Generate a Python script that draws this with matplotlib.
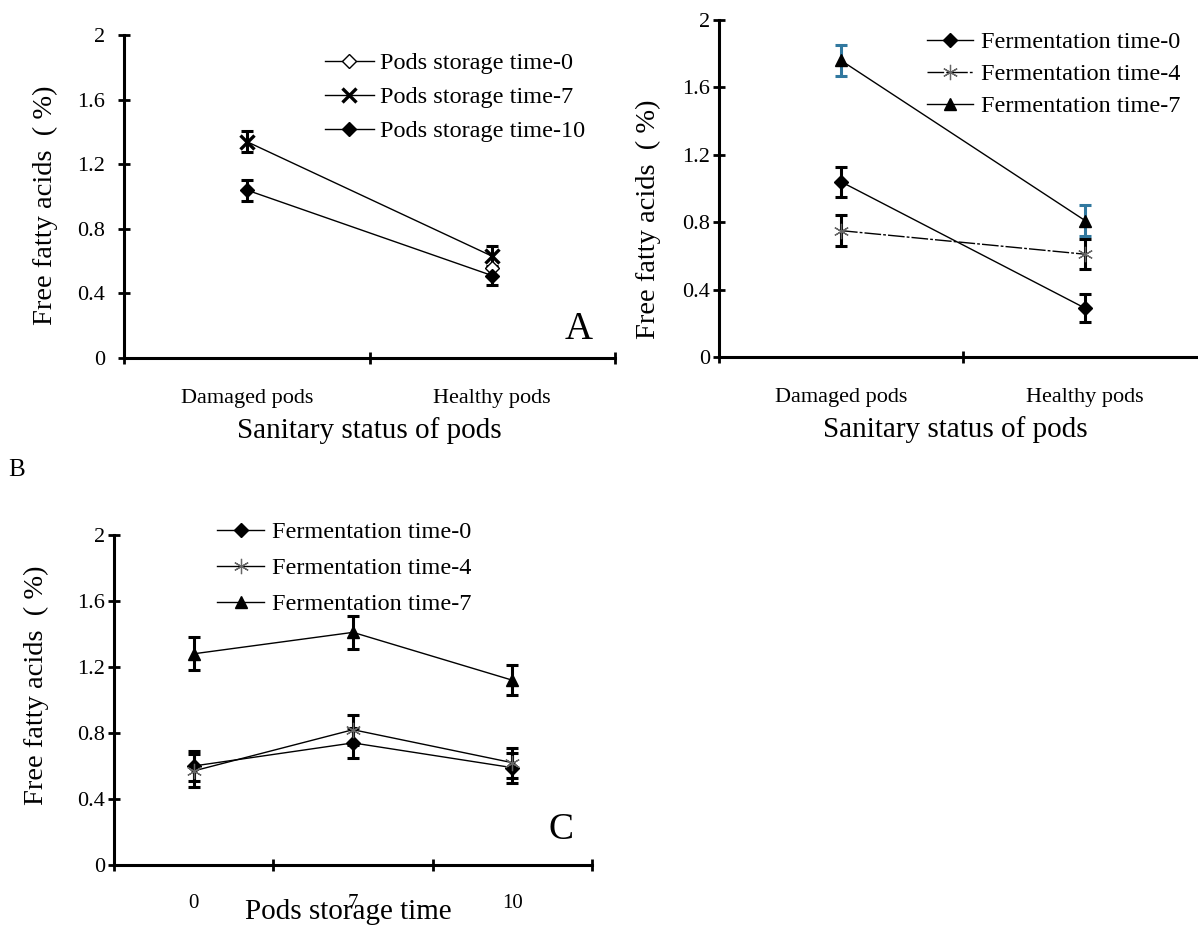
import matplotlib
matplotlib.use("Agg")
import matplotlib.pyplot as plt
import numpy as np

plt.rcParams['font.family'] = ['Liberation Serif', 'DejaVu Serif']

# panel A: sanitary status x pods storage time
status_labels = ['Damaged pods', 'Healthy pods']
storage_0 = [np.nan, 0.56]
storage_7 = [1.34, 0.63]
storage_7_err = [0.065, 0.065]
storage_10 = [1.04, 0.51]
storage_10_err = [0.065, 0.06]

# panel B: sanitary status x fermentation time
ferm_b_0 = [1.04, 0.29]
ferm_b_0_err = [0.09, 0.085]
ferm_b_4 = [0.75, 0.61]
ferm_b_4_err = [0.09, 0.09]
ferm_b_7 = [1.76, 0.81]
ferm_b_7_err = [0.09, 0.09]

# panel C: pods storage time x fermentation time
storage_labels = ['0', '7', '10']
ferm_c_0 = [0.60, 0.74, 0.59]
ferm_c_0_err = [0.09, 0.09, 0.09]
ferm_c_4 = [0.57, 0.82, 0.62]
ferm_c_4_err = [0.10, 0.09, 0.09]
ferm_c_7 = [1.28, 1.41, 1.12]
ferm_c_7_err = [0.10, 0.10, 0.09]

yticks = [0, 0.4, 0.8, 1.2, 1.6, 2]
ytick_labels = ['0', '0.4', '0.8', '1.2', '1.6', '2']
ylab = 'Free fatty acids  ( %)'

W, H = 1198, 930
fig = plt.figure(figsize=(W / 100, H / 100), dpi=100)


def px_axes(left, right, top, bottom):
    return fig.add_axes([left / W, 1 - bottom / H, (right - left) / W, (bottom - top) / H])


def style(ax, labels, ypad, catsize, catpad):
    n = len(labels)
    ax.set_xlim(0, n)
    ax.set_ylim(0, 2)
    for s in ['top', 'right']:
        ax.spines[s].set_visible(False)
    for s in ['left', 'bottom']:
        ax.spines[s].set_linewidth(2.2)
    ax.set_yticks(yticks, ytick_labels)
    ax.set_xticks(np.arange(n + 1))
    ax.set_xticklabels([])
    ax.set_xticks(np.arange(n) + 0.5, labels, minor=True)
    ax.tick_params(which='major', direction='inout', length=9, width=2)
    ax.tick_params(axis='y', labelsize=16, pad=ypad)
    ax.tick_params(axis='x', which='minor', length=0, pad=catpad, labelsize=catsize)


def series(ax, x, y, err, marker, ms, mfc, mec, mew, ls='-', ecolor='black', lc='black', label=None):
    ax.plot(x, y, color=lc, lw=1.0, ls=ls, marker=marker, ms=ms, mfc=mfc, mec=mec,
            mew=mew, label=label, zorder=3)
    if err is not None:
        ax.errorbar(x, y, yerr=err, fmt='none', ecolor=ecolor, elinewidth=2.2,
                    capsize=4.5, capthick=2.2, zorder=2)


leg_kw = dict(frameon=False, borderpad=0, borderaxespad=0, fontsize=17.5,
              loc='upper left', bbox_transform=fig.transFigure)

# ---------------- A ----------------
axA = px_axes(124, 615, 35, 358)
xa = np.arange(2) + 0.5
series(axA, xa, storage_0, None, 'D', 7.5, 'white', 'black', 1.0, label='Pods storage time-0')
series(axA, xa, storage_7, storage_7_err, 'x', 9.5, 'black', 'black', 2.4, label='Pods storage time-7')
series(axA, xa, storage_10, storage_10_err, 'D', 7.5, 'black', 'black', 1.0, label='Pods storage time-10')
style(axA, status_labels, 9, 16, 22)
axA.set_ylabel(ylab, fontsize=20.5, va='center')
axA.yaxis.set_label_coords(-0.16, 0.474)
axA.set_xlabel('Sanitary status of pods', fontsize=21, va='center')
axA.xaxis.set_label_coords(0.5, -0.225)
axA.text(0.925, 0.087, 'A', transform=axA.transAxes, fontsize=28, ha='center', va='center')
axA.legend(bbox_to_anchor=(325 / W, 1 - 52 / H), handlelength=2.0, handletextpad=0.25,
           labelspacing=0.5, **leg_kw)

# ---------------- B ----------------
axB = px_axes(719, 1207, 20, 357)
blue = '#31789f'
series(axB, xa, ferm_b_0, ferm_b_0_err, 'D', 7.5, 'black', 'black', 1.0, label='Fermentation time-0')
series(axB, xa, ferm_b_4, ferm_b_4_err, (6, 2, 0), 11, '#666666', '#666666', 0.9,
       ls=(0, (12, 1.5, 2, 1.5)), label='Fermentation time-4')
series(axB, xa, ferm_b_7, ferm_b_7_err, '^', 9, 'black', 'black', 1.0, ecolor=blue,
       label='Fermentation time-7')
style(axB, status_labels, 2, 16, 22)
axB.set_ylabel(ylab, fontsize=20.5, va='center')
axB.yaxis.set_label_coords(-0.145, 0.41)
axB.set_xlabel('Sanitary status of pods', fontsize=21, va='center')
axB.xaxis.set_label_coords(0.485, -0.215)
axB.legend(bbox_to_anchor=(927 / W, 1 - 31 / H), handlelength=1.9, handletextpad=0.33,
           labelspacing=0.42, **leg_kw)

fig.text(17 / W, 1 - 470 / H, 'B', fontsize=18, ha='center', va='center')

# ---------------- C ----------------
axC = px_axes(114, 592, 535, 865)
xc = np.arange(3) + 0.5
series(axC, xc, ferm_c_0, ferm_c_0_err, 'D', 7.5, 'black', 'black', 1.0, label='Fermentation time-0')
series(axC, xc, ferm_c_4, ferm_c_4_err, (6, 2, 0), 11, '#666666', '#666666', 0.9,
       label='Fermentation time-4')
series(axC, xc, ferm_c_7, ferm_c_7_err, '^', 9, 'black', 'black', 1.0, label='Fermentation time-7')
style(axC, storage_labels, 2, 15, 21)
axC.set_ylabel(ylab, fontsize=20.5, va='center')
axC.yaxis.set_label_coords(-0.163, 0.545)
axC.set_xlabel('Pods storage time', fontsize=21, va='baseline')
axC.xaxis.set_label_coords(0.49, -0.165)
axC.text(0.935, 0.106, 'C', transform=axC.transAxes, fontsize=27, ha='center', va='center')
axC.legend(bbox_to_anchor=(217 / W, 1 - 521 / H), handlelength=1.95, handletextpad=0.3,
           labelspacing=0.58, **leg_kw)

fig.savefig('out.png', dpi=100)
